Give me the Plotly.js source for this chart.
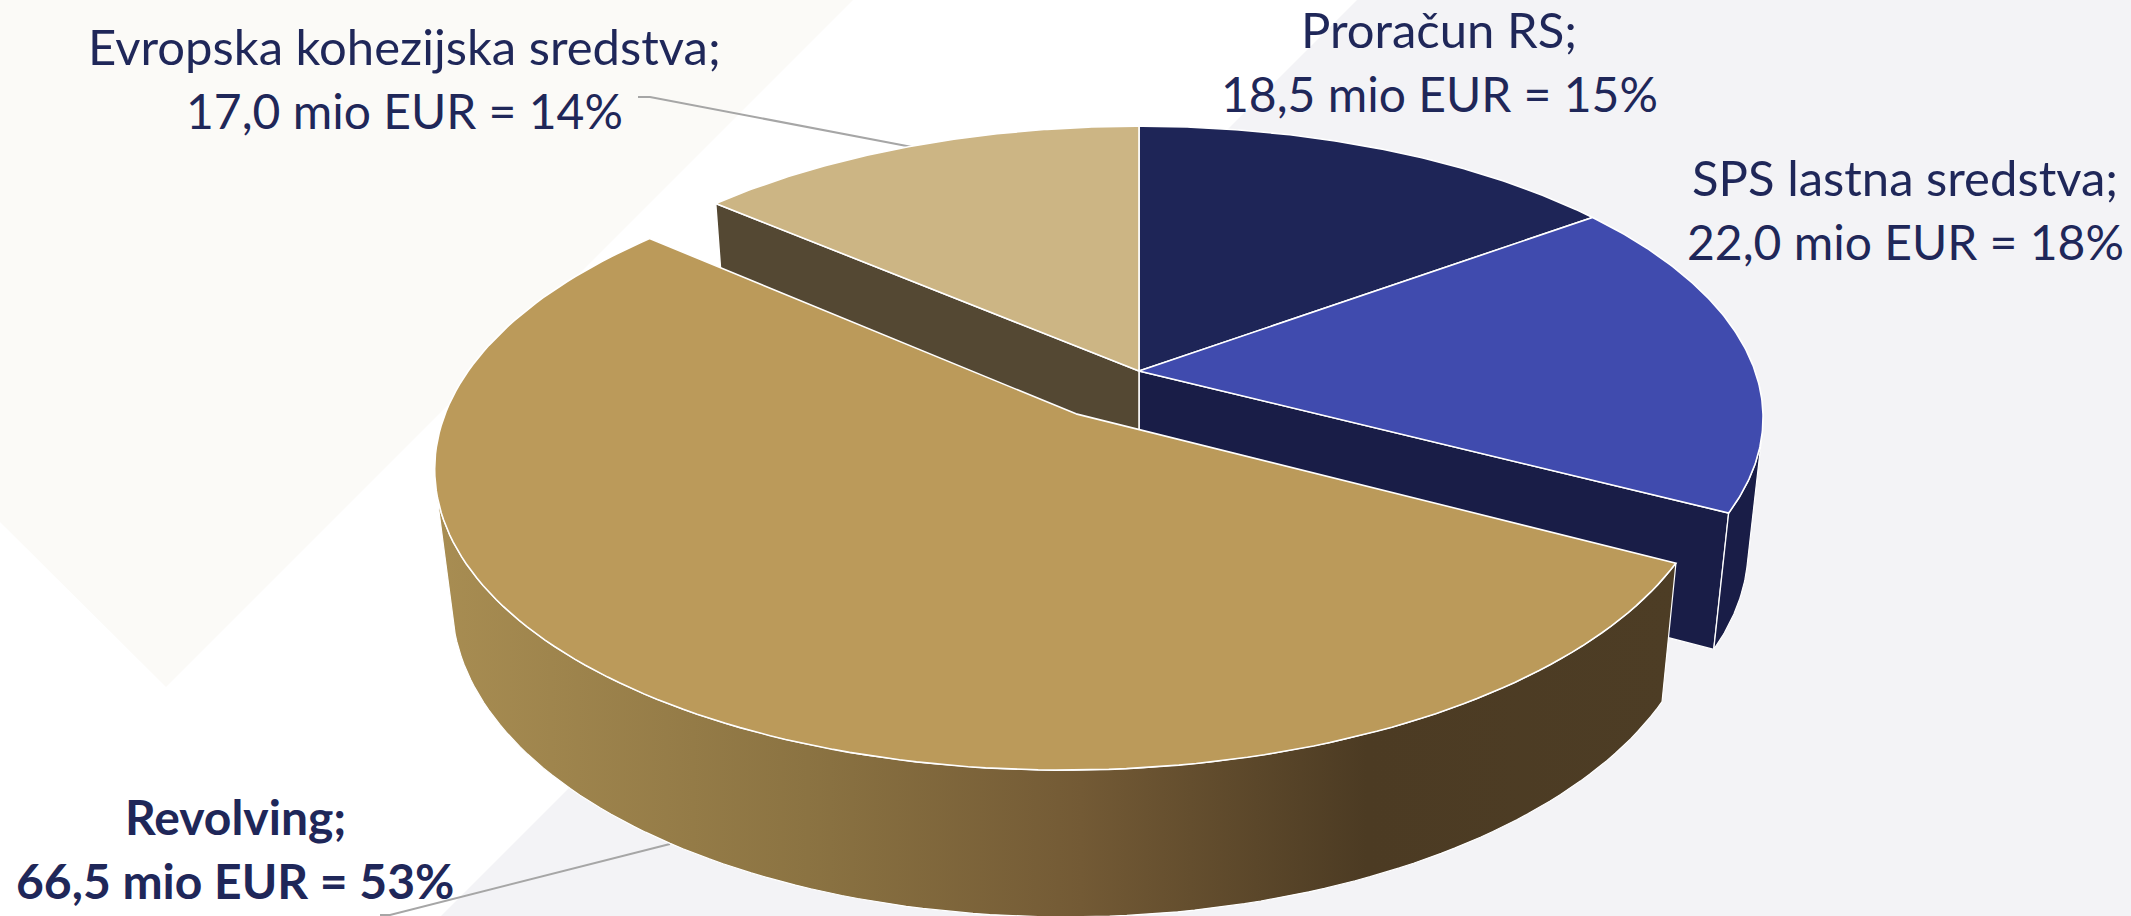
<!DOCTYPE html>
<html>
<head>
<meta charset="utf-8">
<script src="https://cdn.plot.ly/plotly-3.0.1.min.js"></script>
<style>html,body{margin:0;padding:0;background:#fff;overflow:hidden}#chart{width:2131px;height:916px}</style>
</head>
<body>
<div id="chart"></div>
<script>
// Data
const sliceNames = ["Proračun RS;", "SPS lastna sredstva;", "Revolving;", "Evropska kohezijska sredstva;"];
const sliceValues = [18.5, 22.0, 66.5, 17.0];
const valueLabels = ["18,5 mio EUR = 15%", "22,0 mio EUR = 18%", "66,5 mio EUR = 53%", "17,0 mio EUR = 14%"];

// Styling
const topColors = ["#1e2557", "#404bae", "#bb9a5a", "#ccb584"];
const wallNavy = "#191d47", wallBrown = "#544833";
const textColor = "#1f2759";
const W = 2131, H = 916;

// Perspective model of a tilted disc (plane coordinates -> picture pixels)
const CX = 1139, CY = 371, A = 616, B = 284, DEPTH = 133, K = 0.16, M = 0.024, EXPLODE = 0.178;
function project(X, Y, low) {
  const w = 1 + K * Y + (low ? M : 0);
  return [CX + A * X / w, CY + (-B * Y + (low ? DEPTH : 0)) / w];
}
const total = sliceValues.reduce((s, v) => s + v, 0);
let run = 0;
const slices = sliceValues.map(v => {
  const start = run / total * 2 * Math.PI; run += v;
  return {start, end: run / total * 2 * Math.PI};
});
function offset(i) {
  if (i !== 2) return [0, 0];
  const mid = (slices[i].start + slices[i].end) / 2;
  return [EXPLODE * Math.sin(mid), EXPLODE * Math.cos(mid)];
}
function rim(i, t, low) {
  const o = offset(i);
  return project(o[0] + Math.sin(t), o[1] + Math.cos(t), low);
}
// A rim sample faces the viewer when the side wall there drops outward on screen
function facesViewer(i, t) {
  const e = 1e-3, a = rim(i, t - e, false), b = rim(i, t + e, false);
  const hi = rim(i, t, false), lo = rim(i, t, true);
  const tx = b[0] - a[0], ty = b[1] - a[1];
  return ty * (lo[0] - hi[0]) - tx * (lo[1] - hi[1]) > 0;
}
function angles(i, visibleOnly) {
  const out = [], n = 144, s = slices[i];
  for (let j = 0; j <= n; j++) {
    const t = s.start + (s.end - s.start) * j / n;
    if (!visibleOnly || facesViewer(i, t)) out.push(t);
  }
  return out;
}
function apex(i, low) { const o = offset(i); return project(o[0], o[1], low); }
function poly(pts, color, lineW, extra) {
  const c = pts.concat([pts[0]]);
  return Object.assign({
    type: "scatter", mode: "lines", x: c.map(p => p[0]), y: c.map(p => p[1]),
    fill: "toself", fillcolor: color, line: {color: "#ffffff", width: lineW},
    hoverinfo: "skip", showlegend: false
  }, extra || {});
}
function radialWall(i, t, color) {
  return poly([apex(i, false), rim(i, t, false), rim(i, t, true), apex(i, true)], color, 1.5);
}
function rimWall(i, color, extra) {
  const ts = angles(i, true);
  const upper = ts.map(t => rim(i, t, false));
  const lower = ts.map(t => rim(i, t, true)).reverse();
  return poly(upper.concat(lower), color, 1.2, extra);
}
function topFace(i) {
  return poly([apex(i, false)].concat(angles(i, false).map(t => rim(i, t, false))), topColors[i], 1.6);
}
function leader(xs, ys) {
  return {type: "scatter", mode: "lines", x: xs, y: ys, line: {color: "#a6a6a6", width: 2},
          hoverinfo: "skip", showlegend: false};
}

const traces = [
  leader([638, 650, 912], [97, 97, 147]),
  leader([380, 390, 670], [915, 915, 844]),
  radialWall(1, slices[1].end, wallNavy),
  rimWall(1, wallNavy),
  radialWall(3, slices[3].start, wallBrown),
  topFace(0), topFace(1), topFace(3),
  rimWall(2, "#a58a50", {fillgradient: {type: "horizontal", colorscale: [
    [0, "#a88d52"], [0.3, "#8b7342"], [0.52, "#735a35"], [0.75, "#4c3b23"], [1, "#4d3d25"]]}}),
  topFace(2)
];

function label(text, x, y, size, bold) {
  return {text: bold ? "<b>" + text + "</b>" : text, x, y, xref: "x", yref: "y", showarrow: false,
          xanchor: "center", yanchor: "middle",
          font: {family: "Lato, Carlito, sans-serif", size, color: textColor}};
}
const labelPos = [[1439, 29, 93], [1905, 177, 241], [235, 816, 880], [404, 46, 110]];
const annotations = [];
sliceNames.forEach((n, i) => {
  annotations.push(label(n, labelPos[i][0], labelPos[i][1], i === 2 ? 48 : 49, i === 2));
  annotations.push(label(valueLabels[i], labelPos[i][0], labelPos[i][2], 48, i === 2));
});

const layout = {
  width: W, height: H, margin: {l: 0, r: 0, t: 0, b: 0},
  paper_bgcolor: "#ffffff", plot_bgcolor: "#ffffff", showlegend: false,
  xaxis: {range: [0, W], visible: false, fixedrange: true},
  yaxis: {range: [H, 0], visible: false, fixedrange: true},
  annotations,
  shapes: [
    {type: "path", layer: "below", path: "M0,0 L853,0 L166,687 L0,522 Z", fillcolor: "#fbfaf7", line: {width: 0}},
    {type: "path", layer: "below", path: "M1357,0 L2131,0 L2131,916 L441,916 Z", fillcolor: "#f3f3f6", line: {width: 0}}
  ]
};
Plotly.newPlot("chart", traces, layout, {displayModeBar: false, staticPlot: true});
</script>
</body>
</html>
